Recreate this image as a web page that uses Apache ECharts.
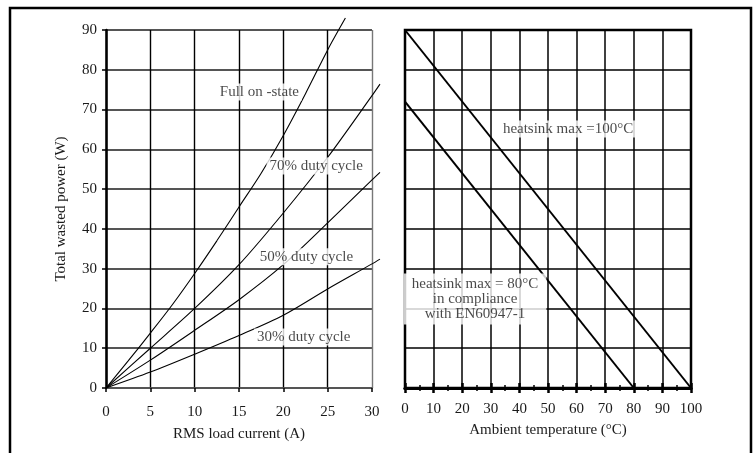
<!DOCTYPE html>
<html><head><meta charset="utf-8">
<script src="https://cdn.jsdelivr.net/npm/echarts@6/dist/echarts.min.js"></script>
<style>html,body{margin:0;padding:0;background:#fff}#c{width:754px;height:453px}</style>
</head><body><div id="c"></div>
<script>
// ---- data ----
const fullX  = [0, 2.5, 5, 7.5, 10, 12.5, 15, 17.5, 20, 22.5, 25, 27];
const fullY  = [0, 6.8, 13.8, 21, 28.8, 37, 45.5, 54, 63.5, 74, 85, 93];
const dutyX  = [0, 5, 10, 15, 20, 25, 30, 30.9];
const duty70 = [0, 10, 20, 31, 44, 58, 73.5, 76.4];
const duty50 = [0, 7, 14.5, 22.2, 31, 41.5, 52.3, 54.2];
const duty30 = [0, 4, 8.5, 13.2, 18.3, 24.9, 31.2, 32.4];
const hs100X = [0, 100];
const hs100Y = [90, 0];
const hs80X  = [0, 80];
const hs80Y  = [72, 0];
const leftLabels  = ['Full on -state', '70% duty cycle', '50% duty cycle', '30% duty cycle'];
const rightLabels = ['heatsink max =100\u00b0C', 'heatsink max = 80\u00b0C\nin compliance\nwith EN60947-1'];

const zip = (xs, ys) => xs.map((x, i) => [x, ys[i]]);
const FONT = 'Liberation Serif';
const TXT = '#1a1a1a';

// overlay grid for curves: same scale as left grid (266px per 30 A), extended to 32 A
const PX_PER_A = 266 / 30;

const curve = (name, xs, ys) => ({
  name, type: 'line', xAxisIndex: 3, yAxisIndex: 2, data: zip(xs, ys),
  smooth: 0.3, showSymbol: false, symbol: 'none', z: 3, clip: false,
  lineStyle: { color: '#000', width: 1.1 }, silent: true
});
const straight = (name, xs, ys) => ({
  name, type: 'line', xAxisIndex: 1, yAxisIndex: 1, data: zip(xs, ys),
  showSymbol: false, symbol: 'none', z: 3, clip: false,
  lineStyle: { color: '#000', width: 2 }, silent: true
});
const labelStyle = {
  show: true, position: 'inside', formatter: '{b}', color: TXT,
  fontFamily: FONT, fontSize: 15, backgroundColor: '#fff', padding: [1, 3],
  align: 'center', verticalAlign: 'middle', lineHeight: 15
};
const hiddenAxis = { axisLine: { show: false }, axisTick: { show: false }, axisLabel: { show: false }, splitLine: { show: false } };

const chart = echarts.init(document.getElementById('c'), null, { renderer: 'canvas' });
chart.setOption({
  animation: false,
  backgroundColor: '#fff',
  textStyle: { fontFamily: FONT },
  graphic: [{
    type: 'rect', shape: { x: 10, y: 8, width: 741, height: 470 },
    style: { fill: 'none', stroke: '#000', lineWidth: 2.5 }, silent: true
  }],
  grid: [
    { left: 106, top: 30, width: 266, height: 358 },
    { left: 405, top: 30, width: 286, height: 358, show: true, borderColor: '#000', borderWidth: 2.5, backgroundColor: 'transparent' },
    { left: 106, top: 30, width: PX_PER_A * 32, height: 358 }
  ],
  xAxis: [
    {
      gridIndex: 0, type: 'value', position: 'bottom', min: 0, max: 30, interval: 5,
      name: 'RMS load current (A)', nameLocation: 'middle', nameGap: 39,
      nameTextStyle: { color: TXT, fontFamily: FONT, fontSize: 15 },
      axisLine: { show: true, onZero: false, lineStyle: { color: '#555', width: 1.6 } },
      axisTick: { show: true, length: 4, lineStyle: { color: '#000', width: 1.5 } },
      axisLabel: { color: TXT, fontFamily: FONT, fontSize: 15, margin: 17 },
      splitLine: { show: true, lineStyle: { color: ['#000', '#000', '#000', '#000', '#000', '#000', '#777'], width: 1.4 } }
    },
    {
      gridIndex: 1, type: 'value', position: 'bottom', min: 0, max: 100, interval: 10,
      name: 'Ambient temperature (\u00b0C)', nameLocation: 'middle', nameGap: 35,
      nameTextStyle: { color: TXT, fontFamily: FONT, fontSize: 15 },
      axisLine: { show: true, onZero: false, lineStyle: { color: '#000', width: 3 } },
      axisTick: { show: true, inside: true, length: 5, lineStyle: { color: '#000', width: 2.5 } },
      minorTick: { show: true, splitNumber: 2, length: 3, lineStyle: { color: '#000', width: 1.5 } },
      axisLabel: { color: TXT, fontFamily: FONT, fontSize: 15, margin: 14 },
      splitLine: { show: true, lineStyle: { color: '#000', width: 1.5 } }
    },
    {
      gridIndex: 1, type: 'value', position: 'bottom', offset: 0, min: 0, max: 100, interval: 10,
      axisLine: { show: true, onZero: false, lineStyle: { color: '#000', width: 3 } },
      axisTick: { show: true, inside: false, length: 5, lineStyle: { color: '#000', width: 2.5 } },
      minorTick: { show: true, splitNumber: 2, length: 3, lineStyle: { color: '#000', width: 1.5 } },
      axisLabel: { show: false },
      splitLine: { show: false }
    },
    Object.assign({ gridIndex: 2, type: 'value', min: 0, max: 32, interval: 2 }, hiddenAxis)
  ],
  yAxis: [
    {
      gridIndex: 0, type: 'value', min: 0, max: 90, interval: 10,
      name: 'Total wasted power (W)', nameLocation: 'middle', nameGap: 37,
      nameTextStyle: { color: TXT, fontFamily: FONT, fontSize: 15 },
      axisLine: { show: true, onZero: false, lineStyle: { color: '#000', width: 2.5 } },
      axisTick: { show: true, length: 4, lineStyle: { color: '#000', width: 1.5 } },
      axisLabel: { color: TXT, fontFamily: FONT, fontSize: 15, margin: 9 },
      splitLine: { show: true, lineStyle: { color: '#555', width: 1.8 } }
    },
    {
      gridIndex: 1, type: 'value', min: 0, max: 90, interval: 10,
      axisLine: { show: false }, axisTick: { show: false }, axisLabel: { show: false },
      splitLine: { show: true, lineStyle: { color: '#000', width: 1.5 } }
    },
    Object.assign({ gridIndex: 2, type: 'value', min: 0, max: 90, interval: 10 }, hiddenAxis)
  ],
  series: [
    curve('full', fullX, fullY),
    curve('70', dutyX, duty70),
    curve('50', dutyX, duty50),
    curve('30', dutyX, duty30),
    straight('hs100', hs100X, hs100Y),
    straight('hs80', hs80X, hs80Y),
    {
      type: 'scatter', xAxisIndex: 0, yAxisIndex: 0, symbolSize: 0, z: 10, silent: true,
      label: labelStyle,
      data: [
        { name: leftLabels[0], value: [17.3, 74.4] },
        { name: leftLabels[1], value: [23.7, 55.8] },
        { name: leftLabels[2], value: [22.6, 33.0] },
        { name: leftLabels[3], value: [22.3, 12.8] }
      ]
    },
    {
      type: 'scatter', xAxisIndex: 1, yAxisIndex: 1, symbolSize: 0, z: 10, silent: true,
      label: labelStyle,
      data: [
        { name: rightLabels[0], value: [57, 65.1] },
        { name: rightLabels[1], value: [24.5, 22.4], label: { padding: [3, 8] } }
      ]
    }
  ]
});
</script>
</body></html>
